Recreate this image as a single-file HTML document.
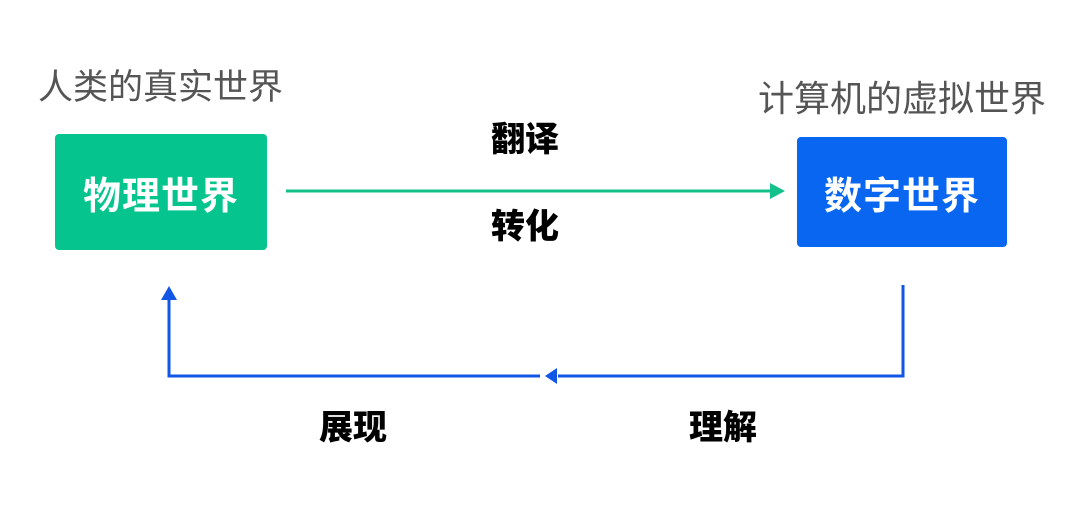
<!DOCTYPE html>
<html><head><meta charset="utf-8"><style>
body{margin:0;width:1080px;height:505px;background:#fff;position:relative;overflow:hidden;font-family:"Liberation Sans","Noto Sans CJK SC",sans-serif}
.t{position:absolute;white-space:nowrap;line-height:1}
.g{color:#555;font-size:35px}
.b{color:#000;font-weight:900;font-size:34px}
.box{position:absolute;border-radius:4px;color:#fff;font-weight:700;font-size:38px;display:flex;align-items:center;justify-content:center;letter-spacing:1px}
</style></head><body>
<div class="t g" style="left:38px;top:70px">人类的真实世界</div>
<div class="t g" style="left:758px;top:81px;font-size:36px">计算机的虚拟世界</div>
<div class="box" style="left:55px;top:134px;width:212px;height:116px;background:#06c48e">物理世界</div>
<div class="box" style="left:797px;top:137px;width:210px;height:110px;background:#0966f0">数字世界</div>
<div class="t b" style="left:491px;top:123px">翻译</div>
<div class="t b" style="left:491px;top:210px">转化</div>
<div class="t b" style="left:319px;top:411px">展现</div>
<div class="t b" style="left:689px;top:411px">理解</div>
<svg width="1080" height="505" style="position:absolute;left:0;top:0">
<line x1="286" y1="191" x2="772" y2="191" stroke="#14c08a" stroke-width="3"/>
<polygon points="785,191 770,183 770,199" fill="#14c08a"/>
<polyline points="903,285 903,376 558,376" fill="none" stroke="#1256e6" stroke-width="3"/>
<polygon points="545,376 557,368 557,384" fill="#1256e6"/>
<polyline points="540,376 169,376 169,298" fill="none" stroke="#1256e6" stroke-width="3"/>
<polygon points="169,286 161,300 177,300" fill="#1256e6"/>
</svg>
</body></html>
